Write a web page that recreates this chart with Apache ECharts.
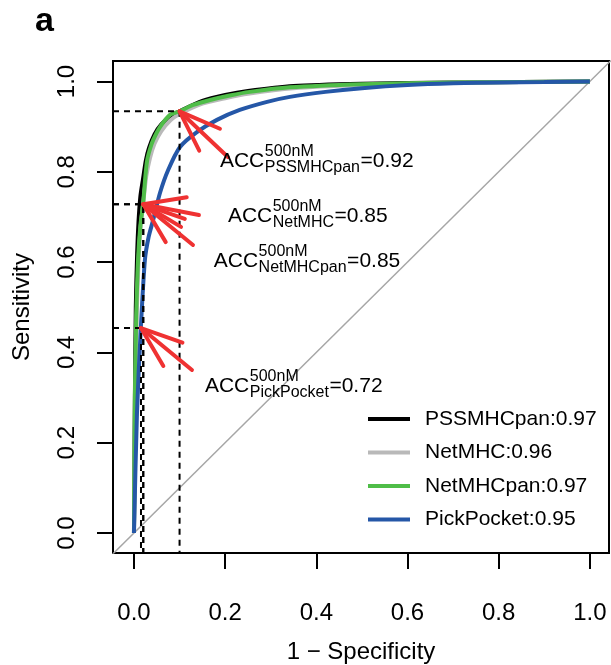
<!DOCTYPE html>
<html>
<head>
<meta charset="utf-8">
<script src="https://cdn.jsdelivr.net/npm/echarts@6/dist/echarts.min.js"></script>
<style>
  html, body { margin: 0; padding: 0; background: #fff; }
  #chart { width: 611px; height: 665px; }
</style>
</head>
<body>
<div id="chart"></div>
<script>
// ROC curves: false positive rate (1 - specificity) vs. true positive rate (sensitivity)
const pssmhcpanFpr = [0, 0.002, 0.004, 0.007, 0.010, 0.014, 0.020, 0.026, 0.033, 0.045, 0.060, 0.080, 0.100, 0.150, 0.200, 0.250, 0.350, 0.500, 0.700, 0.850, 1];
const pssmhcpanTpr = [0, 0.300, 0.500, 0.620, 0.690, 0.745, 0.785, 0.825, 0.853, 0.883, 0.905, 0.923, 0.934, 0.957, 0.970, 0.979, 0.990, 0.995, 0.998, 0.999, 1];

const netmhcFpr = [0, 0.003, 0.006, 0.010, 0.014, 0.020, 0.027, 0.035, 0.045, 0.060, 0.080, 0.100, 0.150, 0.200, 0.250, 0.350, 0.500, 0.700, 0.850, 1];
const netmhcTpr = [0, 0.300, 0.480, 0.600, 0.670, 0.728, 0.790, 0.830, 0.862, 0.890, 0.914, 0.928, 0.951, 0.963, 0.973, 0.985, 0.992, 0.997, 0.999, 1];

const netmhcpanFpr = [0, 0.002, 0.005, 0.009, 0.014, 0.020, 0.025, 0.029, 0.035, 0.042, 0.057, 0.079, 0.100, 0.130, 0.167, 0.210, 0.254, 0.342, 0.500, 0.700, 0.850, 1];
const netmhcpanTpr = [0, 0.300, 0.480, 0.605, 0.680, 0.728, 0.790, 0.826, 0.850, 0.870, 0.899, 0.926, 0.934, 0.948, 0.959, 0.969, 0.977, 0.987, 0.994, 0.998, 0.999, 1];

const pickpocketFpr = [0, 0.0066, 0.015, 0.024, 0.032, 0.042, 0.057, 0.075, 0.101, 0.138, 0.182, 0.232, 0.292, 0.342, 0.420, 0.500, 0.600, 0.700, 0.800, 0.900, 1];
const pickpocketTpr = [0, 0.266, 0.454, 0.605, 0.655, 0.693, 0.753, 0.804, 0.855, 0.888, 0.915, 0.937, 0.955, 0.966, 0.977, 0.985, 0.992, 0.996, 0.998, 0.999, 1];

// Method names, AUC values and colours
const methods = ['PSSMHCpan', 'NetMHC', 'NetMHCpan', 'PickPocket'];
const aucValues = [0.97, 0.96, 0.97, 0.95];
const colors = ['#000000', '#b9b9b9', '#4fbd48', '#2557a7'];

// Operating points at the 500 nM cut-off and their accuracy
const accValues = [0.92, 0.85, 0.85, 0.72];
const cutFpr = [0.1, 0.0204, 0.0204, 0.0154];
const cutTpr = [0.934, 0.728, 0.728, 0.454];

// Annotation anchors (start of "ACC" text, baseline) and arrow tails
const labelX = [0.1886, 0.206, 0.175, 0.1557];
const labelY = [0.8106, 0.689, 0.589, 0.312];
const tailX = [0.206, 0.1425, 0.1294, 0.1272];
const tailY = [0.8327, 0.7043, 0.6379, 0.361];

// Axis ticks
const tickValues = [0, 0.2, 0.4, 0.6, 0.8, 1.0];
const tickLabels = ['0.0', '0.2', '0.4', '0.6', '0.8', '1.0'];

const X_MIN = -0.046, X_MAX = 1.042, Y_MIN = -0.0443, Y_MAX = 1.0454;
const FONT = '"Liberation Sans", Arial, Helvetica, sans-serif';

const curves = [
  [pssmhcpanFpr, pssmhcpanTpr],
  [netmhcFpr, netmhcTpr],
  [netmhcpanFpr, netmhcpanTpr],
  [pickpocketFpr, pickpocketTpr]
];

const measureCtx = document.createElement('canvas').getContext('2d');
function textWidth(s, size) {
  measureCtx.font = size + 'px ' + FONT;
  return measureCtx.measureText(s).width;
}

const seriesList = [];

// diagonal reference line
seriesList.push({
  type: 'line', name: 'diag', silent: true, symbol: 'none',
  data: [[-0.1, -0.1], [1.1, 1.1]],
  lineStyle: { color: '#a6a6a6', width: 1.5 },
  z: 1
});

curves.forEach((c, i) => {
  seriesList.push({
    type: 'line',
    name: methods[i] + ':' + aucValues[i].toFixed(2),
    symbol: 'none',
    smooth: 0.25,
    data: c[0].map((x, k) => [x, c[1][k]]),
    lineStyle: { color: colors[i], width: 4 },
    itemStyle: { color: colors[i] },
    z: 2 + i
  });
});

// dashed guides to each operating point
cutFpr.forEach((x, i) => {
  seriesList.push({
    type: 'line', name: 'guide' + i, silent: true, symbol: 'none',
    data: [[X_MIN, cutTpr[i]], [x, cutTpr[i]], [x, Y_MIN]],
    lineStyle: { color: '#000', width: 2, type: [6, 5] },
    z: 8
  });
});

// arrows pointing at the operating points
seriesList.push({
  type: 'custom', name: 'arrows', silent: true,
  data: cutFpr.map((x, i) => [x, cutTpr[i], tailX[i], tailY[i]]),
  renderItem: function (params, api) {
    const tip = api.coord([api.value(0), api.value(1)]);
    const tail = api.coord([api.value(2), api.value(3)]);
    const ang = Math.atan2(tail[1] - tip[1], tail[0] - tip[0]);
    const hl = 44, ha = 20 * Math.PI / 180;
    const h1 = [tip[0] + hl * Math.cos(ang - ha), tip[1] + hl * Math.sin(ang - ha)];
    const h2 = [tip[0] + hl * Math.cos(ang + ha), tip[1] + hl * Math.sin(ang + ha)];
    const st = { stroke: '#ef3232', lineWidth: 4, lineCap: 'round', lineJoin: 'round', fill: null };
    return {
      type: 'group',
      children: [
        { type: 'line', shape: { x1: tail[0], y1: tail[1], x2: tip[0], y2: tip[1] }, style: st },
        { type: 'polyline', shape: { points: [h1, tip, h2] }, style: st }
      ]
    };
  },
  z: 10
});

// ACC annotations with super/subscripts
seriesList.push({
  type: 'custom', name: 'acc', silent: true,
  data: labelX.map((x, i) => [x, labelY[i], i]),
  renderItem: function (params, api) {
    const i = api.value(2);
    const p = api.coord([api.value(0), api.value(1)]);
    const big = 21, small = 16;
    const wA = textWidth('ACC', big);
    const wSup = textWidth('500nM', small);
    const wSub = textWidth(methods[i], small);
    const x2 = p[0] + wA + 0.5;
    const x3 = x2 + Math.max(wSup, wSub) + 0.5;
    const mk = (txt, x, y, size) => ({
      type: 'text', x: x, y: y,
      style: { text: txt, font: size + 'px ' + FONT, fill: '#000', align: 'left', verticalAlign: 'bottom' }
    });
    return {
      type: 'group',
      children: [
        mk('ACC', p[0], p[1] + big * 0.21, big),
        mk('500nM', x2, p[1] - 11 + small * 0.21, small),
        mk(methods[i], x2, p[1] + 5 + small * 0.21, small),
        mk('=' + accValues[i].toFixed(2), x3, p[1] + big * 0.21, big)
      ]
    };
  },
  z: 11
});

const chart = echarts.init(document.getElementById('chart'), null, { renderer: 'canvas' });
chart.setOption({
  animation: false,
  backgroundColor: '#fff',
  textStyle: { fontFamily: FONT, color: '#000' },
  grid: {
    left: 113, top: 61, width: 496, height: 492,
    outerBoundsMode: 'none', containLabel: false,
    show: true, borderColor: '#000', borderWidth: 2, backgroundColor: 'transparent'
  },
  legend: {
    orient: 'vertical',
    left: 363, top: 402,
    icon: 'rect',
    itemWidth: 42, itemHeight: 4,
    itemGap: 9.5,
    data: methods.map((m, i) => m + ':' + aucValues[i].toFixed(2)),
    textStyle: { fontSize: 21, color: '#000', fontFamily: FONT, lineHeight: 24, padding: [0, 0, 0, 10] },
    selectedMode: false
  },
  xAxis: {
    type: 'value', min: X_MIN, max: X_MAX,
    name: '1 \u2212 Specificity', nameLocation: 'middle', nameGap: 87, nameMoveOverlap: false,
    nameTextStyle: { fontSize: 24, color: '#000', fontFamily: FONT },
    axisLine: { show: false, onZero: false },
    splitLine: { show: false },
    axisTick: { show: true, inside: false, length: 16, customValues: tickValues, lineStyle: { color: '#000', width: 2 } },
    axisLabel: {
      customValues: tickValues, margin: 36, fontSize: 24, color: '#000', fontFamily: FONT,
      padding: [12, 0, 0, 0],
      formatter: v => tickLabels[tickValues.findIndex(t => Math.abs(t - v) < 1e-9)]
    }
  },
  yAxis: {
    type: 'value', min: Y_MIN, max: Y_MAX,
    name: 'Sensitivity', nameLocation: 'middle', nameGap: 79, nameRotate: 90, nameMoveOverlap: false,
    nameTextStyle: { fontSize: 24, color: '#000', fontFamily: FONT },
    axisLine: { show: false, onZero: false },
    splitLine: { show: false },
    axisTick: { show: true, inside: false, length: 16, customValues: tickValues, lineStyle: { color: '#000', width: 2 } },
    axisLabel: {
      customValues: tickValues, margin: 34, rotate: 90, fontSize: 24, color: '#000', fontFamily: FONT,
      formatter: v => tickLabels[tickValues.findIndex(t => Math.abs(t - v) < 1e-9)]
    }
  },
  graphic: [{
    type: 'text', left: 35, top: 5,
    style: { text: 'a', font: 'bold 34px ' + FONT, fill: '#000' }
  }],
  series: seriesList
});
</script>
</body>
</html>
